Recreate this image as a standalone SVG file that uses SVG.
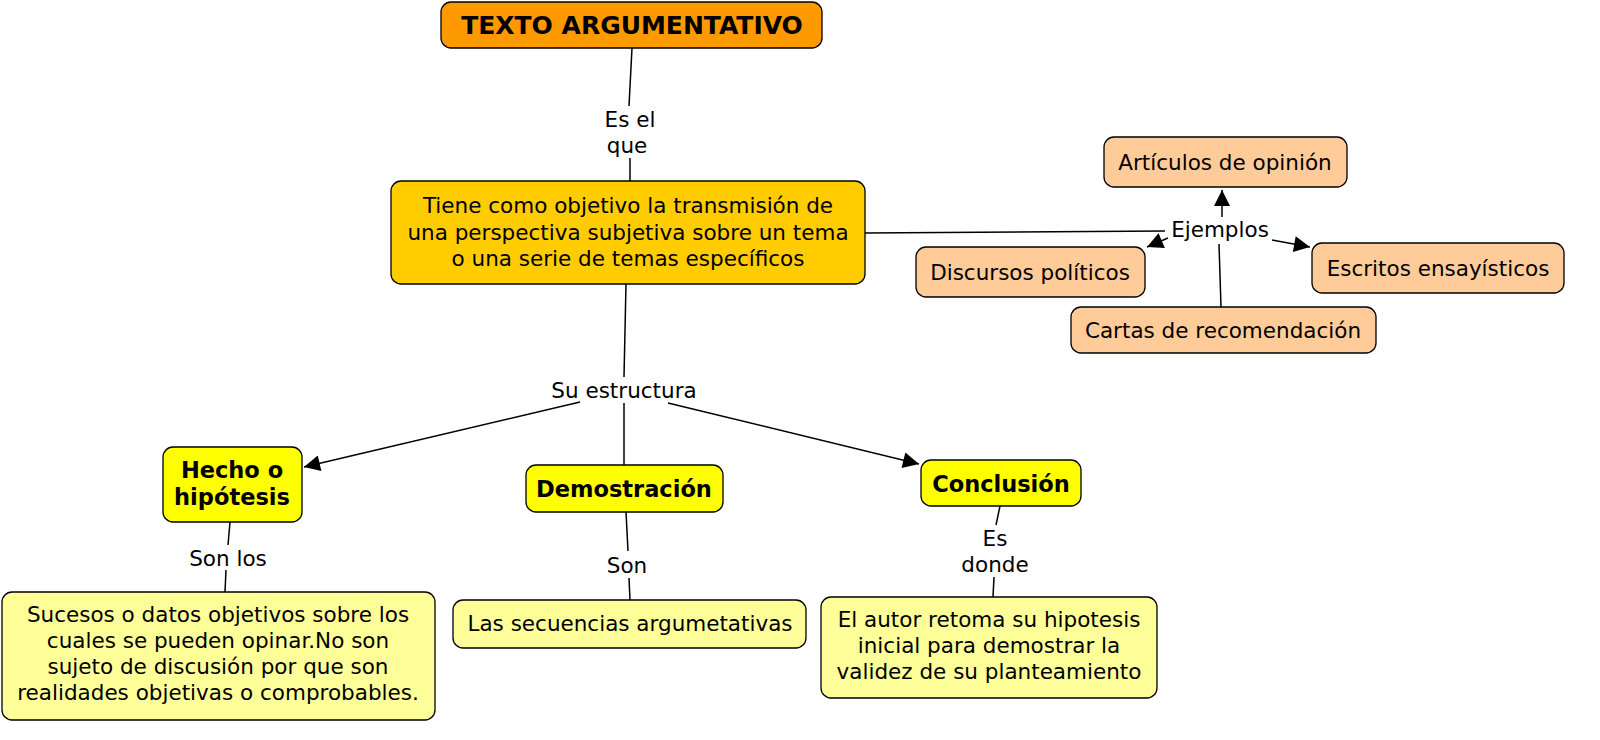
<svg xmlns="http://www.w3.org/2000/svg" width="1600" height="740" viewBox="0 0 1600 740">
<style>
text{font-family:"DejaVu Sans","Noto Sans",sans-serif;fill:#000;text-anchor:middle}
.n rect{stroke:#000;stroke-width:1.3}
.t{font-size:21.5px}
.b{font-size:22.5px;font-weight:bold}
.l{font-size:21.5px}
#c line{stroke:#000;stroke-width:1.5}
</style>
<defs><marker id="a" viewBox="0 0 10 10" refX="10" refY="5" markerWidth="18" markerHeight="16" markerUnits="userSpaceOnUse" orient="auto"><path d="M0,0L10,5L0,10z" fill="#000"/></marker></defs>
<rect width="1600" height="740" fill="#fff"/>
<g id="c">
<line x1="632" y1="48" x2="629" y2="106"/>
<line x1="630" y1="158" x2="630" y2="181"/>
<line x1="865" y1="233" x2="1165" y2="231"/>
<line x1="1222" y1="217" x2="1222" y2="190" marker-end="url(#a)"/>
<line x1="1168" y1="238" x2="1147" y2="247" marker-end="url(#a)"/>
<line x1="1272" y1="240" x2="1310" y2="247" marker-end="url(#a)"/>
<line x1="1221" y1="307" x2="1219" y2="244"/>
<line x1="626" y1="284" x2="624" y2="377"/>
<line x1="580" y1="402" x2="304" y2="467" marker-end="url(#a)"/>
<line x1="668" y1="403" x2="919" y2="464" marker-end="url(#a)"/>
<line x1="624" y1="403" x2="624" y2="465"/>
<line x1="230" y1="522" x2="228" y2="545"/>
<line x1="226" y1="570" x2="225" y2="592"/>
<line x1="626" y1="512" x2="628" y2="551"/>
<line x1="629" y1="578" x2="630" y2="600"/>
<line x1="1000" y1="506" x2="996" y2="525"/>
<line x1="994" y1="577" x2="993" y2="597"/>
</g>
<g class="l">
<text x="630" y="127">Es el</text><text x="627" y="153">que</text>
<text x="1220" y="237">Ejemplos</text>
<text x="624" y="398">Su estructura</text>
<text x="228" y="566">Son los</text>
<text x="627" y="573">Son</text>
<text x="995" y="546">Es</text><text x="995" y="572">donde</text>
</g>
<g id="n1" class="n"><rect x="441" y="2" width="381" height="46" rx="10" fill="#FF9900"/><text class="b" x="632" y="34" style="font-size:25px">TEXTO ARGUMENTATIVO</text></g>
<g id="n2" class="n"><rect x="391" y="181" width="474" height="103" rx="10" fill="#FFCC00"/><text class="t" x="628" y="213">Tiene como objetivo la transmisión de</text><text class="t" x="628" y="240">una perspectiva subjetiva sobre un tema</text><text class="t" x="628" y="266">o una serie de temas específicos</text></g>
<g id="n3" class="n"><rect x="1104" y="137" width="243" height="50" rx="10" fill="#FFCC99"/><text class="t" x="1225" y="170">Artículos de opinión</text></g>
<g id="n4" class="n"><rect x="916" y="247" width="229" height="50" rx="10" fill="#FFCC99"/><text class="t" x="1030" y="280">Discursos políticos</text></g>
<g id="n5" class="n"><rect x="1312" y="243" width="252" height="50" rx="10" fill="#FFCC99"/><text class="t" x="1438" y="276">Escritos ensayísticos</text></g>
<g id="n6" class="n"><rect x="1071" y="307" width="305" height="46" rx="10" fill="#FFCC99"/><text class="t" x="1223" y="338">Cartas de recomendación</text></g>
<g id="n7" class="n"><rect x="163" y="447" width="139" height="75" rx="10" fill="#FFFF00"/><text class="b" x="232" y="478">Hecho o</text><text class="b" x="232" y="505">hipótesis</text></g>
<g id="n8" class="n"><rect x="526" y="465" width="197" height="47" rx="10" fill="#FFFF00"/><text class="b" x="624" y="497">Demostración</text></g>
<g id="n9" class="n"><rect x="921" y="460" width="160" height="46" rx="10" fill="#FFFF00"/><text class="b" x="1001" y="492">Conclusión</text></g>
<g id="n10" class="n"><rect x="2" y="592" width="433" height="128" rx="10" fill="#FFFF99"/><text class="t" x="218" y="622">Sucesos o datos objetivos sobre los</text><text class="t" x="218" y="648">cuales se pueden opinar.No son</text><text class="t" x="218" y="674">sujeto de discusión por que son</text><text class="t" x="218" y="700">realidades objetivas o comprobables.</text></g>
<g id="n11" class="n"><rect x="453" y="600" width="353" height="48" rx="10" fill="#FFFF99"/><text class="t" x="630" y="631">Las secuencias argumetativas</text></g>
<g id="n12" class="n"><rect x="821" y="597" width="336" height="101" rx="10" fill="#FFFF99"/><text class="t" x="989" y="627">El autor retoma su hipotesis</text><text class="t" x="989" y="653">inicial para demostrar la</text><text class="t" x="989" y="679">validez de su planteamiento</text></g>
</svg>
